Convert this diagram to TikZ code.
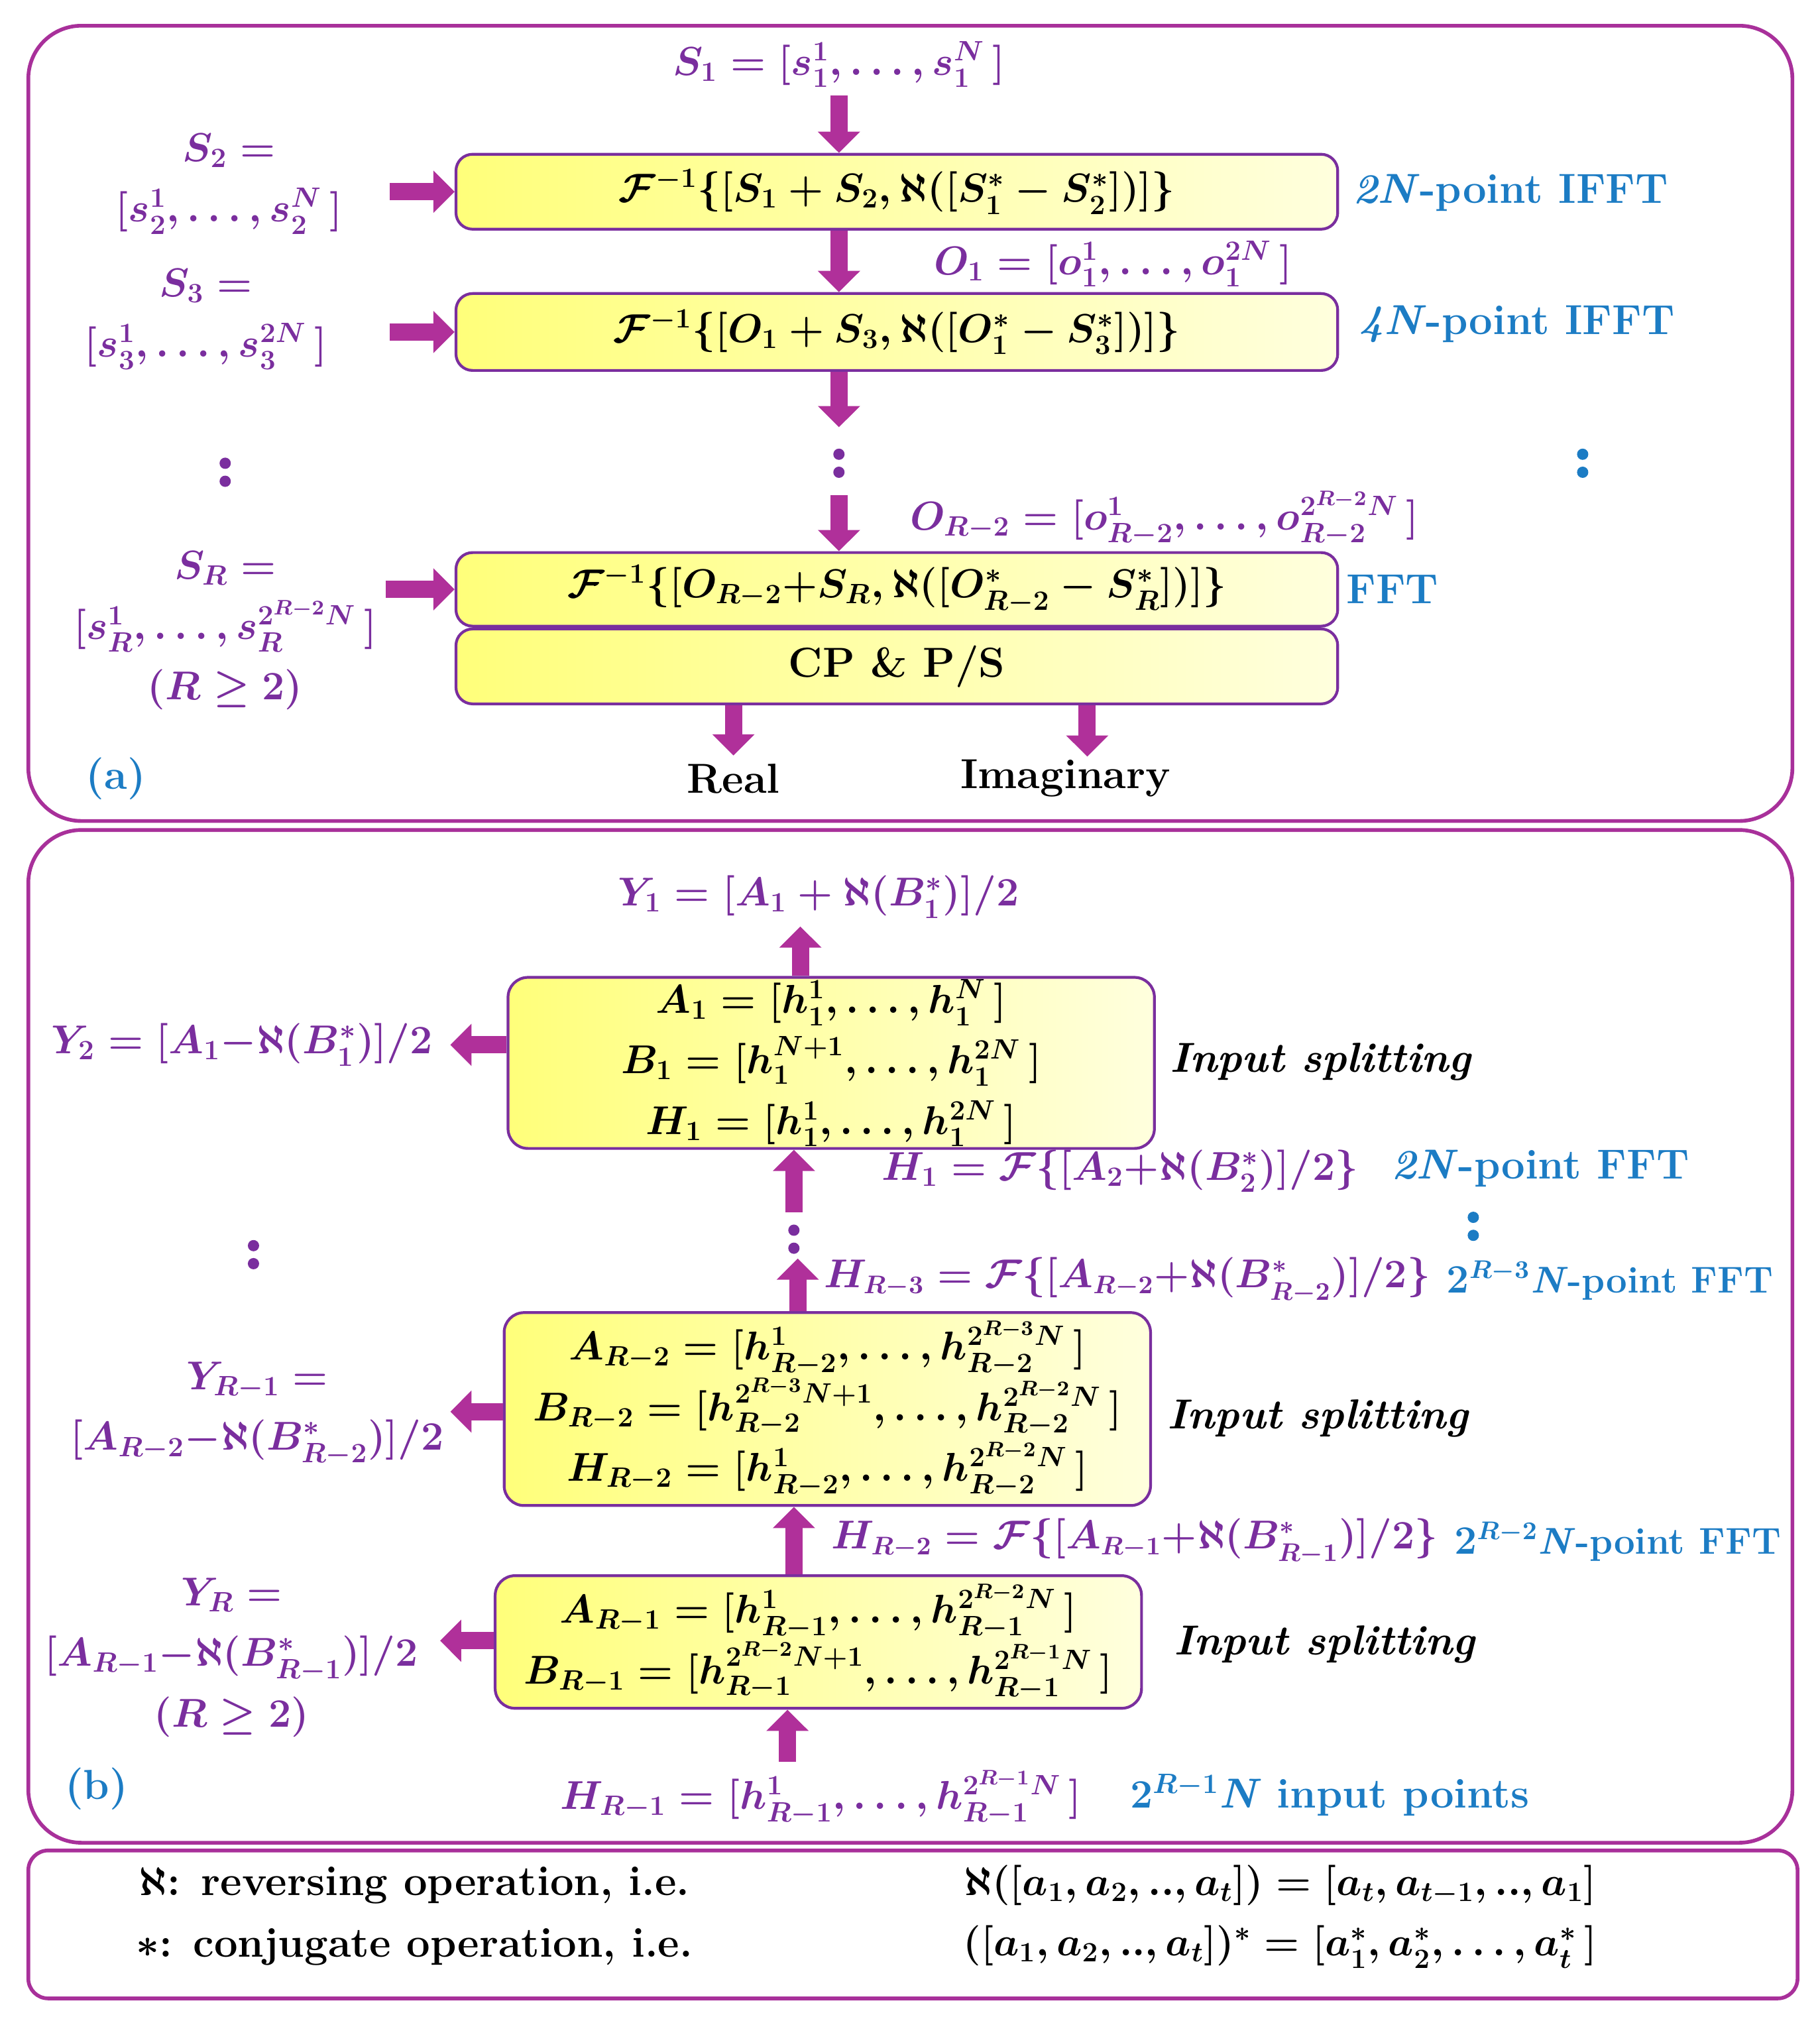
\documentclass[tikz,border=0pt]{standalone}
\usepackage{amsmath, amssymb}
\usepackage{xcolor}
\usetikzlibrary{arrows.meta, calc, positioning}
\definecolor{Frame}{HTML}{A8309A}
\definecolor{Plum}{HTML}{7A2E9E}
\definecolor{Pink}{HTML}{B0309A}
\definecolor{Sky}{HTML}{1C7CC4}
\definecolor{Lemon}{HTML}{FFFF7A}
\tikzset{
  panel/.style={draw=Frame, line width=1.6pt, rounded corners=0.8cm},
  fbox/.style={draw=Plum, line width=1.2pt, rounded corners=0.25cm, left color=Lemon, right color=Lemon!25, minimum width=13.3cm, minimum height=1.13cm, inner sep=0pt, text=black},
  sbox/.style={draw=Plum, line width=1.2pt, rounded corners=0.3cm, left color=Lemon, right color=Lemon!25, minimum width=9.75cm, inner sep=0pt, text=black, align=center},
  blk/.style={-{Triangle[length=0.32cm, width=0.62cm]}, line width=0.26cm, color=Pink},
  lbl/.style={text=Plum, align=center, font=\mathfont},
  note/.style={text=Sky, font=\labfont, anchor=west},
  plain/.style={text=black, font=\labfont},
}
\newcommand{\mathfont}{\fontsize{18}{26}\selectfont\bfseries\boldmath}
\newcommand{\smallmath}{\fontsize{16}{22}\selectfont\bfseries\boldmath}
\newcommand{\labfont}{\fontsize{18}{24}\selectfont\bfseries\boldmath}
\newcommand{\twodots}[2]{\fill[#2] (#1) ++(0,-7) circle (0.085cm) ++(0,14) circle (0.085cm);}
\begin{document}
\begin{tikzpicture}[x=0.01941cm, y=-0.01941cm]
  \useasboundingbox (0,0) rectangle (1414,1569);

  % Panels
  \draw[panel] (22,20) rectangle (1393,638);
  \draw[panel] (22,645) rectangle (1393,1432);
  \draw[panel, rounded corners=0.3cm] (22,1438) rectangle (1397,1553);

  % (a) IFFT chain
  \node[fbox, font=\mathfont] (f1) at (697,149) {$\mathcal{F}^{-1}\{[S_1+S_2,\aleph([S_1^*-S_2^*])]\}$};
  \node[fbox, font=\mathfont, minimum height=1.16cm] (f2) at (697,258) {$\mathcal{F}^{-1}\{[O_1+S_3,\aleph([O_1^*-S_3^*])]\}$};
  \node[fbox, font=\mathfont, minimum height=1.11cm] (f3) at (697,458) {$\mathcal{F}^{-1}\{[O_{R-2}{+}S_R,\aleph([O_{R-2}^*-S_R^*])]\}$};
  \node[fbox, font=\labfont, anchor=north] (cp) at (f3.south) {CP \& P/S};

  \node[lbl] (s1) at (652,50) {$S_1=[s_1^1,\dots,s_1^N\,]$};
  \node[lbl] (s2) at (178,143) {$S_2=$\\$[s_2^1,\dots,s_2^N\,]$};
  \node[lbl] (s3) at (160,248) {$S_3=$\\$[s_3^1,\dots,s_3^{2N}\,]$};
  \node[lbl] (sr) at (175,490) {$S_R=$\\$[s_R^1,\dots,s_R^{2^{R-2}N}\,]$\\$(R\geq2)$};
  \node[lbl] (o1) at (865,205) {$O_1=[o_1^1,\dots,o_1^{2N}\,]$};
  \node[lbl] (or) at (905,403) {$O_{R-2}=[o_{R-2}^1,\dots,o_{R-2}^{2^{R-2}N}\,]$};
  \coordinate (dl) at (175,367);
  \coordinate (dm) at (652,360);
  \coordinate (dr) at (1230,360);
  \twodots{dl}{Plum}
  \twodots{dm}{Plum}
  \twodots{dr}{Sky}

  \node[note] at (1045,150) {\textit{2N}-point IFFT};
  \node[note] at (1050,252) {\textit{4N}-point IFFT};
  \node[note] at (1040,458) {FFT};
  \node[plain] (re) at (570,605) {Real};
  \node[plain] (im) at (828,605) {Imaginary};
  \node[text=Sky, font=\labfont] at (90,605) {(a)};

  \draw[blk] (s1.south) -- (f1.north -| s1);
  \draw[blk] (f1.south -| s1) -- (f2.north -| s1);
  \draw[blk] (f2.south -| s1) -- ($(dm)+(0,-28)$);
  \draw[blk] ($(dm)+(0,25)$) -- (f3.north -| s1);
  \draw[blk] (f1.west -| 303,0) -- (f1.west);
  \draw[blk] (f2.west -| 303,0) -- (f2.west);
  \draw[blk] (f3.west -| 300,0) -- (f3.west);
  \draw[blk] (cp.south -| re) -- (re.north);
  \draw[blk] (cp.south -| 845,0) -- (845,588);

  % (b) FFT chain
  \node[sbox, font=\mathfont, minimum height=2.58cm] (ba) at (646,826) {$A_1=[h_1^1,\dots,h_1^N\,]$\\$B_1=[h_1^{N+1},\dots,h_1^{2N}\,]$\\$H_1=[h_1^1,\dots,h_1^{2N}\,]$};
  \node[sbox, font=\mathfont, minimum height=2.91cm] (bb) at (643,1095) {$A_{R-2}=[h_{R-2}^1,\dots,h_{R-2}^{2^{R-3}N}\,]$\\$B_{R-2}=[h_{R-2}^{2^{R-3}N+1},\dots,h_{R-2}^{2^{R-2}N}\,]$\\$H_{R-2}=[h_{R-2}^1,\dots,h_{R-2}^{2^{R-2}N}\,]$};
  \node[sbox, font=\mathfont, minimum height=2.0cm] (bc) at (636,1276) {$A_{R-1}=[h_{R-1}^1,\dots,h_{R-1}^{2^{R-2}N}\,]$\\$B_{R-1}=[h_{R-1}^{2^{R-2}N+1},\dots,h_{R-1}^{2^{R-1}N}\,]$};

  \node[lbl] (y1) at (636,697) {$Y_1=[A_1+\aleph(B_1^*)]/2$};
  \node[lbl] (y2) at (188,812) {$Y_2=[A_1{-}\aleph(B_1^*)]/2$};
  \node[lbl] (yr1) at (200,1099) {$Y_{R-1}=$\\$[A_{R-2}{-}\aleph(B_{R-2}^*)]/2$};
  \node[lbl] (yr) at (180,1288) {$Y_R=$\\$[A_{R-1}{-}\aleph(B_{R-1}^*)]/2$\\$(R\geq2)$};
  \node[lbl, anchor=east] (h1) at (1062,910) {$H_1=\mathcal{F}\{[A_2{+}\aleph(B_2^*)]/2\}$};
  \node[lbl, font=\smallmath, anchor=east] (hr3) at (1118,995) {$H_{R-3}=\mathcal{F}\{[A_{R-2}{+}\aleph(B_{R-2}^*)]/2\}$};
  \node[lbl, font=\smallmath, anchor=east] (hr2) at (1124,1198) {$H_{R-2}=\mathcal{F}\{[A_{R-1}{+}\aleph(B_{R-1}^*)]/2\}$};
  \node[lbl] (hr1) at (638,1397) {$H_{R-1}=[h_{R-1}^1,\dots,h_{R-1}^{2^{R-1}N}\,]$};
  \node[plain, font=\labfont\itshape, anchor=west] at (903,825) {Input splitting};
  \node[plain, font=\labfont\itshape, anchor=west] at (901,1102) {Input splitting};
  \node[plain, font=\labfont\itshape, anchor=west] at (906,1278) {Input splitting};
  \node[note] at (1075,908) {\textit{2N}-point FFT};
  \node[note, font=\smallmath] at (1118,995) {$2^{R-3}$\textit{N}-point FFT};
  \node[note, font=\smallmath] at (1124,1198) {$2^{R-2}$\textit{N}-point FFT};
  \node[note] at (872,1395) {$2^{R-1}$\textit{N} input points};
  \node[text=Sky, font=\labfont] at (75,1390) {(b)};
  \coordinate (dbl) at (197,975);
  \coordinate (dbm) at (617,963);
  \coordinate (dbr) at (1145,953);
  \twodots{dbl}{Plum}
  \twodots{dbm}{Plum}
  \twodots{dbr}{Sky}

  \draw[blk] (ba.north -| 622,0) -- (y1.south -| 622,0);
  \draw[blk] (ba.west |- y2) -- (350,812);
  \draw[blk] (617,942) -- (ba.south -| 617,0);
  \draw[blk] (bb.north -| 620,0) -- (620,978);
  \draw[blk] (bb.west |- 0,1097) -- (350,1097);
  \draw[blk] (bc.north -| 617,0) -- (bb.south -| 617,0);
  \draw[blk] (bc.west |- 0,1275) -- (342,1275);
  \draw[blk] (hr1.north -| 612,0) -- (bc.south -| 612,0);

  % (c) legend
  \node[plain] (k1) at (322,1465) {$\aleph$: reversing operation, i.e.};
  \node[plain] (k2) at (322,1513) {$*$: conjugate operation, i.e.};
  \node[plain] (e1) at (995,1465) {$\aleph([a_1,a_2,..,a_t])=[a_t,a_{t-1},..,a_1]$};
  \node[plain] (e2) at (995,1513) {$([a_1,a_2,..,a_t])^*=[a_1^*,a_2^*,\dots,a_t^*\,]$};
\end{tikzpicture}
\end{document}
